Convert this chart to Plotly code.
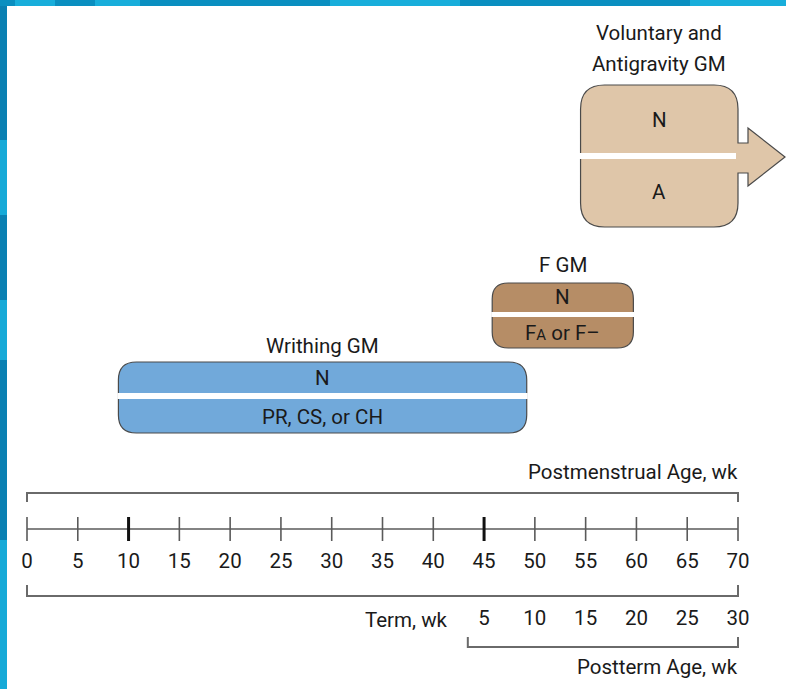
import plotly.graph_objects as go

# ---- data ----
pma_ticks = [0, 5, 10, 15, 20, 25, 30, 35, 40, 45, 50, 55, 60, 65, 70]
major_ticks = [10, 45]
term_week = 40
postterm_ticks = [5, 10, 15, 20, 25, 30]
postterm_bracket_start = 43.4

gm_names = ["Writhing GM", "F GM", "Voluntary and<br>Antigravity GM"]
gm_start = [9, 45.8, 54.5]
gm_end = [49.2, 59.7, 70]
gm_top_text = ["N", "N", "N"]
gm_bottom_text = ["PR, CS, or CH", "F<span style='font-size:15px'>A</span> or F\u2013", "A"]
gm_colors = ["#71a9da", "#b68d66", "#dfc6a9"]

# ---- layout helpers ----
W, H = 786, 689
X0PX = 27.0
XS = (738.0 - 27.0) / 70.0  # px per week
FONT = "Roboto, Liberation Sans, sans-serif"
FS = 20.5
TXT = "#1a1a1a"
LINE = "#5a5a5a"


def px2w(px):
    return (px - X0PX) / XS


def rrect_path(x0, x1, y0, y1, r, arrow=None):
    rx = r / XS
    p = f"M {x0+rx},{y0} L {x1-rx},{y0} Q {x1},{y0} {x1},{y0+r} "
    if arrow:
        sy0, sy1, hx, hy0, hy1, tx = arrow
        ty = (hy0 + hy1) / 2
        p += (f"L {x1},{sy0} L {hx},{sy0} L {hx},{hy0} L {tx},{ty} "
              f"L {hx},{hy1} L {hx},{sy1} L {x1},{sy1} ")
    p += (f"L {x1},{y1-r} Q {x1},{y1} {x1-rx},{y1} L {x0+rx},{y1} "
          f"Q {x0},{y1} {x0},{y1-r} L {x0},{y0+r} Q {x0},{y0} {x0+rx},{y0} Z")
    return p


fig = go.Figure()
shapes = []
annotations = []

# decorative border
shapes.append(dict(type="rect", xref="paper", yref="paper", x0=0, x1=7 / W, y0=0, y1=1,
                   fillcolor="#0a80b2", line_width=0, layer="below"))
shapes.append(dict(type="rect", xref="paper", yref="paper", x0=0, x1=1, y0=1 - 6 / H, y1=1,
                   fillcolor="#0a8fc0", line_width=0, layer="below"))
for (a, b) in [(140, 215), (300, 360), (540, 689)]:
    shapes.append(dict(type="rect", xref="paper", yref="paper", x0=0, x1=7 / W,
                       y0=1 - b / H, y1=1 - a / H, fillcolor="#16aad8", line_width=0, layer="below"))
for (a, b) in [(15, 55), (95, 140), (330, 460), (690, 786)]:
    shapes.append(dict(type="rect", xref="paper", yref="paper", x0=a / W, x1=b / W,
                       y0=1 - 6 / H, y1=1, fillcolor="#18aedb", line_width=0, layer="below"))

# GM boxes (vertical geometry in px)
box_y = [(362, 433, 393, 399, 18), (283, 348, 312, 317, 16), (85, 227, 153, 159, 24)]
label_y = [[346], [265], [33, 64]]
top_y = [378, 297, 120]
bot_y = [417, 333, 192]
for i in range(3):
    x0, x1 = gm_start[i], gm_end[i]
    y0, y1, b0, b1, r = box_y[i]
    arrow = None
    if i == 2:
        arrow = (143, 173, px2w(748), 128, 186, px2w(785))
    shapes.append(dict(type="path", xref="x", yref="y", path=rrect_path(x0, x1, y0, y1, r, arrow),
                       fillcolor=gm_colors[i], line=dict(color="#4a4a4a", width=1.2)))
    if i == 2:
        bx0, bx1 = x0 - 3 / XS, x1 - 2 / XS
    else:
        bx0, bx1 = x0 - 1 / XS, x1 + 1 / XS
    shapes.append(dict(type="rect", xref="x", yref="y", x0=bx0, x1=bx1, y0=b0, y1=b1,
                       fillcolor="white", line_width=0))
    cx = (x0 + x1) / 2
    names = gm_names[i].split("<br>")
    for nm, yy in zip(names, label_y[i]):
        annotations.append(dict(x=cx, y=yy, text=nm, showarrow=False, xref="x", yref="y",
                                font=dict(size=FS, color=TXT, family=FONT)))
    annotations.append(dict(x=cx, y=top_y[i], text=gm_top_text[i], showarrow=False,
                            xref="x", yref="y", font=dict(size=FS, color=TXT, family=FONT)))
    annotations.append(dict(x=cx, y=bot_y[i], text=gm_bottom_text[i], showarrow=False,
                            xref="x", yref="y", font=dict(size=FS, color=TXT, family=FONT)))

# timeline axis
AX_Y = 529
fig.add_trace(go.Scatter(x=[pma_ticks[0], pma_ticks[-1]], y=[AX_Y, AX_Y], mode="lines",
                         line=dict(color=LINE, width=1.6), hoverinfo="skip"))
tx, ty = [], []
for t in pma_ticks:
    if t in major_ticks:
        continue
    tx += [t, t, None]
    ty += [517, 541, None]
fig.add_trace(go.Scatter(x=tx, y=ty, mode="lines", line=dict(color=LINE, width=1.6),
                         hoverinfo="skip"))
mx, my = [], []
for t in major_ticks:
    mx += [t, t, None]
    my += [517, 541, None]
fig.add_trace(go.Scatter(x=mx, y=my, mode="lines", line=dict(color="#111111", width=3),
                         hoverinfo="skip"))
fig.add_trace(go.Scatter(x=pma_ticks, y=[563] * len(pma_ticks), mode="text",
                         text=[str(t) for t in pma_ticks],
                         textfont=dict(size=FS, color=TXT, family=FONT), hoverinfo="skip"))
fig.add_trace(go.Scatter(x=[term_week + t for t in postterm_ticks], y=[620] * len(postterm_ticks),
                         mode="text", text=[str(t) for t in postterm_ticks],
                         textfont=dict(size=FS, color=TXT, family=FONT), hoverinfo="skip"))

# brackets
BR = dict(color="#6a6a6a", width=2)
fig.add_trace(go.Scatter(x=[0, 0, 70, 70], y=[502, 493, 493, 502], mode="lines", line=BR,
                         hoverinfo="skip"))
fig.add_trace(go.Scatter(x=[0, 0, 70, 70], y=[585, 596, 596, 585], mode="lines", line=BR,
                         hoverinfo="skip"))
fig.add_trace(go.Scatter(x=[postterm_bracket_start, postterm_bracket_start, 70, 70],
                         y=[637, 647, 647, 637], mode="lines", line=BR, hoverinfo="skip"))

annotations.append(dict(x=70.2, y=472, text="Postmenstrual Age, wk", showarrow=False,
                        xanchor="right", xref="x", yref="y",
                        font=dict(size=FS, color=TXT, family=FONT)))
annotations.append(dict(x=px2w(450), y=620, text="Term, wk", showarrow=False,
                        xanchor="right", xref="x", yref="y",
                        font=dict(size=FS, color=TXT, family=FONT)))
annotations.append(dict(x=70.2, y=667, text="Postterm Age, wk", showarrow=False,
                        xanchor="right", xref="x", yref="y",
                        font=dict(size=FS, color=TXT, family=FONT)))

fig.update_layout(
    width=W, height=H, margin=dict(l=0, r=0, t=0, b=0),
    paper_bgcolor="white", plot_bgcolor="white", showlegend=False,
    shapes=shapes, annotations=annotations,
    xaxis=dict(range=[px2w(0), px2w(W)], visible=False, fixedrange=True),
    yaxis=dict(range=[H, 0], visible=False, fixedrange=True),
)
fig.write_html("out.html", config={"displayModeBar": False},
               post_script="document.body.style.margin='0';document.body.style.overflow='hidden';")
